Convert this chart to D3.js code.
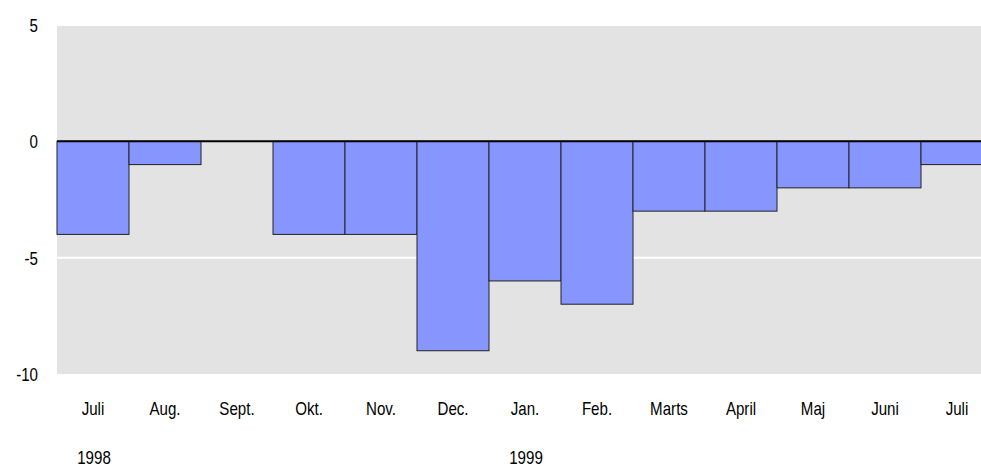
<!DOCTYPE html>
<html>
<head>
<meta charset="utf-8">
<script src="https://cdn.jsdelivr.net/npm/d3@7"></script>
<style>
  body { margin: 0; background: #fff; }
  svg { display: block; }
  text { font-family: "Liberation Sans Narrow", "Liberation Sans", Arial, sans-serif; font-size: 18px; fill: #000; }
</style>
</head>
<body>
<svg id="chart" width="981" height="467"></svg>
<script>
// data
const months = ["Juli", "Aug.", "Sept.", "Okt.", "Nov.", "Dec.", "Jan.", "Feb.", "Marts", "April", "Maj", "Juni", "Juli"];
const values = [-4, -1, 0, -4, -4, -9, -6, -7, -3, -3, -2, -2, -1];
const yTicks = [5, 0, -5, -10];
const yearLabels = [{ year: "1998", at: 0 }, { year: "1999", at: 6 }];

const svg = d3.select("#chart");
const keys = months.map((m, i) => i);
const narrow = "scale(0.84,1)"; // no narrow font installed, squeeze a bit

const x = d3.scaleBand()
    .domain(keys)
    .range([57, 993])
    .padding(0);

const y = d3.scaleLinear()
    .domain([-10, 5])
    .range([374, 25]);

// plot background
svg.append("rect")
    .attr("x", x.range()[0])
    .attr("y", y(5))
    .attr("width", x.range()[1] - x.range()[0])
    .attr("height", y(-10) - y(5))
    .attr("fill", "#e3e3e3");

// gridlines
svg.append("g")
    .selectAll("line")
    .data(yTicks.filter(d => d !== 0 && d !== -10))
    .join("line")
    .attr("x1", x.range()[0])
    .attr("x2", x.range()[1])
    .attr("y1", d => y(d))
    .attr("y2", d => y(d))
    .attr("stroke", "#fff")
    .attr("stroke-width", 2);

// bars
svg.append("g")
    .selectAll("rect")
    .data(values)
    .join("rect")
    .attr("x", (d, i) => x(i))
    .attr("y", d => y(Math.max(0, d)))
    .attr("width", x.bandwidth())
    .attr("height", d => Math.abs(y(d) - y(0)))
    .attr("fill", "#8796ff")
    .attr("stroke", "#222")
    .attr("stroke-width", 1);

// zero line
svg.append("line")
    .attr("x1", x.range()[0])
    .attr("x2", x.range()[1])
    .attr("y1", y(0))
    .attr("y2", y(0))
    .attr("stroke", "#000")
    .attr("stroke-width", 2);

// y axis labels
const yAxis = d3.axisLeft(y).tickValues(yTicks).tickFormat(d => String(d)).tickSize(0).tickPadding(0);
const yg = svg.append("g")
    .attr("transform", "translate(38,0)")
    .call(yAxis);
yg.select(".domain").remove();
yg.selectAll("text")
    .style("font-size", "18px")
    .style("font-family", null)
    .attr("x", 0)
    .attr("dy", "0.36em")
    .attr("transform", narrow);

// month labels
const xAxis = d3.axisBottom(x).tickFormat(i => months[i]).tickSize(0).tickPadding(0);
const xg = svg.append("g")
    .attr("transform", "translate(0,415)")
    .call(xAxis);
xg.select(".domain").remove();
xg.selectAll("text")
    .style("font-size", "18px")
    .attr("y", 0)
    .attr("dy", 0)
    .attr("transform", narrow);

// year labels
svg.append("g")
    .selectAll("text")
    .data(yearLabels)
    .join("text")
    .attr("text-anchor", "middle")
    .attr("transform", d => `translate(${x(d.at) + x.bandwidth() / 2 + 1},464) ${narrow}`)
    .text(d => d.year);
</script>
</body>
</html>
